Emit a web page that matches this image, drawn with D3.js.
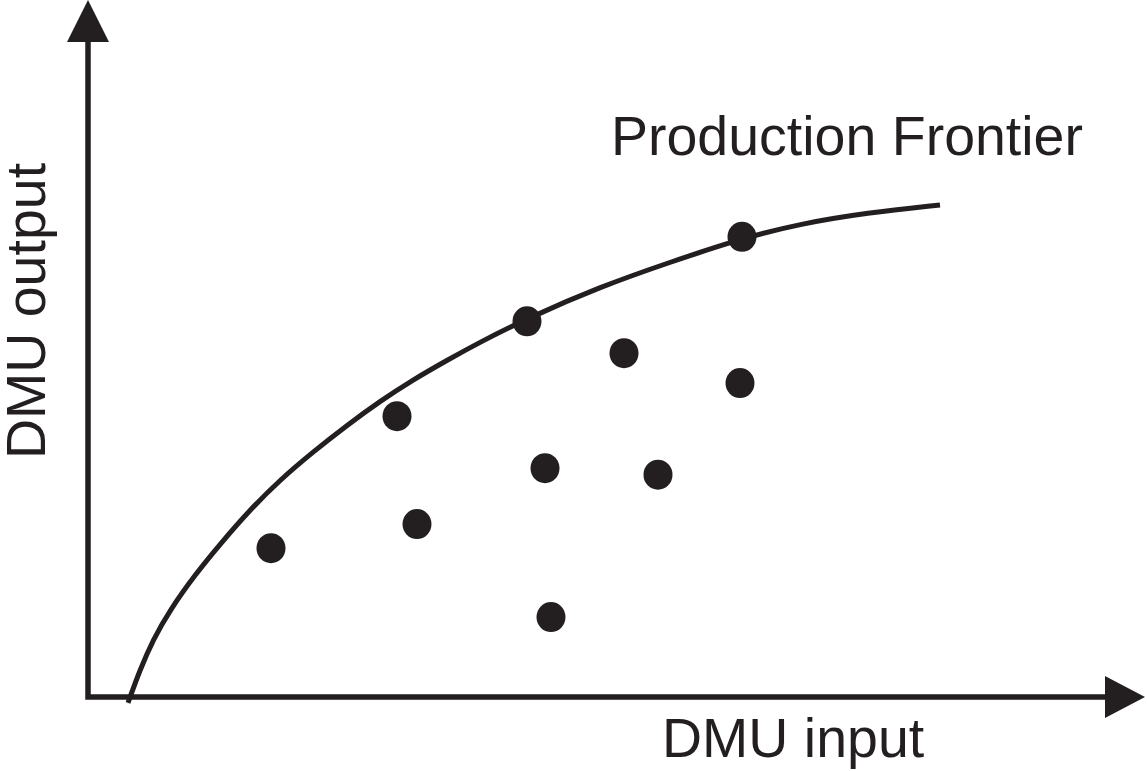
<!DOCTYPE html>
<html>
<head>
<meta charset="utf-8">
<script src="https://cdn.jsdelivr.net/npm/d3@7"></script>
<style>
  body { margin: 0; background: #fff; }
  svg text { font-family: "Liberation Sans", Arial, Helvetica, sans-serif; fill: #231f20; }
</style>
</head>
<body>
<div id="chart"></div>
<script>
// DMU observations (input, output)
var dmuInput  = [18.3, 30.9, 32.9, 43.9, 45.7, 46.3, 53.6, 57.0, 65.2, 65.4];
var dmuOutput = [22.9, 43.2, 26.6, 57.8, 35.2, 12.3, 52.9, 34.2, 48.3, 70.8];

// production frontier
var frontierInput  = [4.0, 5.2, 6.5, 8.2, 10.7, 13.2, 16.2, 19.2, 22.5, 25.9, 29.2, 32.5, 35.9, 39.2, 44.0, 51.2, 58.2, 65.5, 71.2, 77.9, 85.2];
var frontierOutput = [-0.9, 4.2, 8.8, 13.4, 18.8, 23.5, 28.8, 33.4, 37.7, 41.8, 45.5, 48.8, 51.8, 54.6, 58.3, 63.1, 66.9, 70.6, 72.8, 74.5, 75.7];

var xLabel = "DMU input";
var yLabel = "DMU output";
var frontierLabel = "Production Frontier";

var width = 1147;
var height = 771;
var ink = "#231f20";

var svg = d3.select("#chart")
	.append("svg")
	.attr("width", width)
	.attr("height", height);

// scales: origin at (88, 697)
var xScale = d3.scaleLinear().domain([0, 100]).range([88, 1088]);
var yScale = d3.scaleLinear().domain([0, 100]).range([697, 47]);

var x0 = xScale(0), y0 = yScale(0);
var xEnd = xScale.range()[1] + 17;   // arrow base on x axis
var yEnd = yScale.range()[1] - 5;    // arrow base on y axis

// axes with arrow heads
svg.append("path")
	.attr("d", "M" + x0 + "," + yEnd + " L" + x0 + "," + y0 + " L" + xEnd + "," + y0)
	.attr("fill", "none")
	.attr("stroke", ink)
	.attr("stroke-width", 5.5)
	.attr("stroke-linejoin", "miter");

svg.append("path")
	.attr("d", "M" + x0 + "," + (yEnd - 42) + " L" + (x0 - 21) + "," + yEnd + " L" + (x0 + 21) + "," + yEnd + " Z")
	.attr("fill", ink);

svg.append("path")
	.attr("d", "M" + (xEnd + 40) + "," + y0 + " L" + xEnd + "," + (y0 - 21) + " L" + xEnd + "," + (y0 + 21) + " Z")
	.attr("fill", ink);

// frontier curve (b-spline smooths the traced points)
var line = d3.line()
	.x(function(d, i) { return xScale(frontierInput[i]); })
	.y(function(d) { return yScale(d); })
	.curve(d3.curveBasis);

svg.append("path")
	.attr("d", line(frontierOutput))
	.attr("fill", "none")
	.attr("stroke", ink)
	.attr("stroke-width", 5);

// DMU dots
svg.selectAll(".dot")
	.data(dmuOutput)
	.enter()
	.append("ellipse")
	.attr("class", "dot")
	.attr("cx", function(d, i) { return xScale(dmuInput[i]); })
	.attr("cy", function(d) { return yScale(d); })
	.attr("rx", 14.5)
	.attr("ry", 15)
	.attr("fill", ink);

// labels
svg.append("text")
	.attr("x", 611)
	.attr("y", 155)
	.style("font-size", "55.5px")
	.text(frontierLabel);

svg.append("text")
	.attr("x", 662)
	.attr("y", 757)
	.style("font-size", "55.5px")
	.text(xLabel);

svg.append("text")
	.attr("transform", "translate(45,311) rotate(-90)")
	.attr("text-anchor", "middle")
	.style("font-size", "55.5px")
	.text(yLabel);
</script>
</body>
</html>
